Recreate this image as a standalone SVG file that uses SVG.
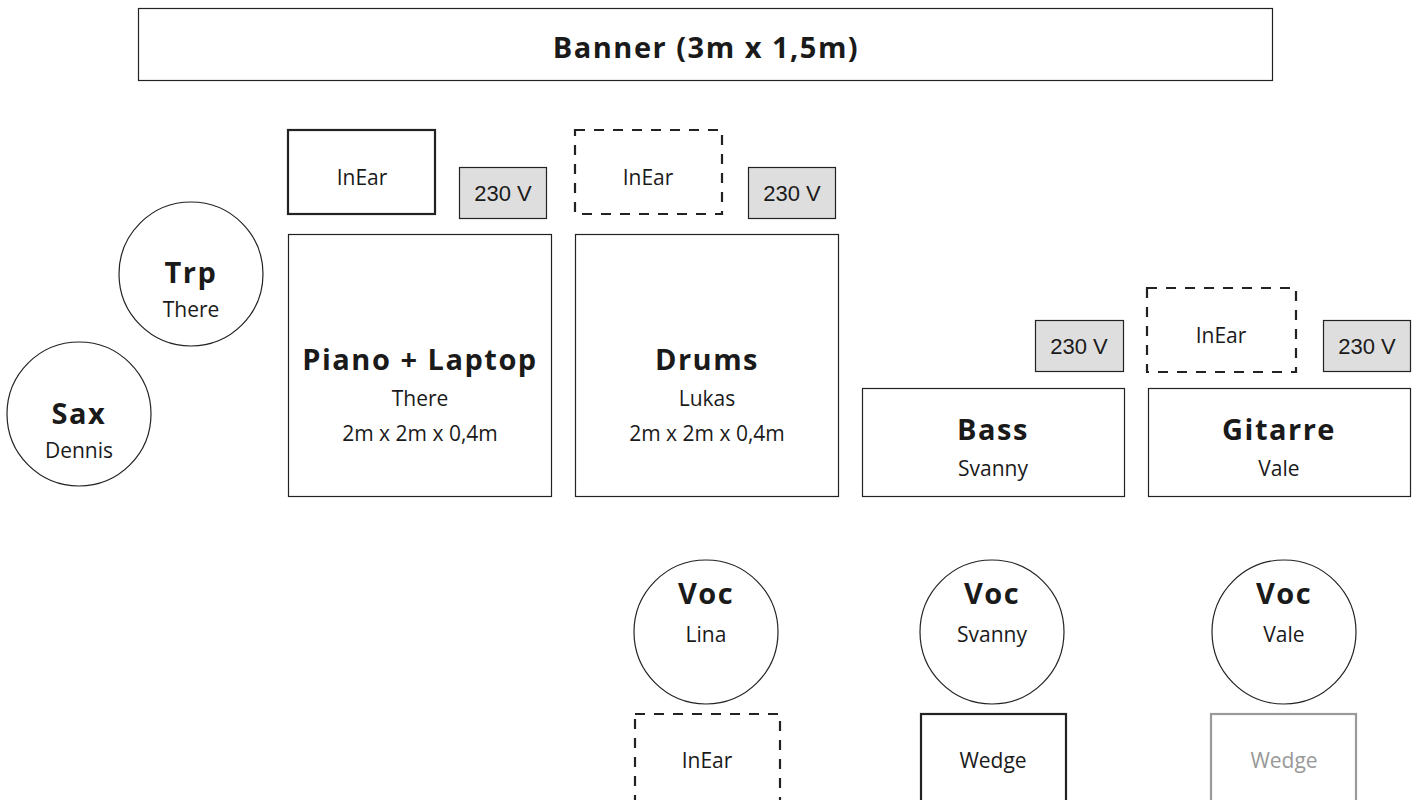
<svg xmlns="http://www.w3.org/2000/svg" width="1419" height="800" viewBox="0 0 1419 800">
<style>
.box{fill:#fff;stroke:#222;stroke-width:1.2}
.solid2{fill:#fff;stroke:#222;stroke-width:2.2}
.dash{fill:#fff;stroke:#222;stroke-width:2.2;stroke-dasharray:10 9}
.gray{fill:#fff;stroke:#999;stroke-width:2.2}
.pwr{fill:#dedede;stroke:#222;stroke-width:1.2}
.circ{fill:#fff;stroke:#222;stroke-width:1.2}
text{font-family:"Open Sans","Lato",sans-serif;text-anchor:middle;fill:#1a1a1a}
.b{font-weight:bold;font-size:29px;letter-spacing:1.5px}
.n{font-size:21px}
.v{font-family:"Liberation Sans",Arial,sans-serif;font-size:22px}
.g{fill:#999}
</style>
<g id="banner"><rect class="box" x="138.5" y="8.5" width="1134" height="72"/><text class="b" x="706" y="58">Banner (3m x 1,5m)</text></g>
<g id="inear1"><rect class="solid2" x="288" y="130" width="147" height="84"/><text class="n" x="362" y="185">InEar</text></g>
<g id="pwr1"><rect class="pwr" x="459.5" y="167.5" width="87" height="51"/><text class="v" x="503" y="201">230 V</text></g>
<g id="inear2"><rect class="dash" x="575" y="130" width="147" height="84"/><text class="n" x="648" y="185">InEar</text></g>
<g id="pwr2"><rect class="pwr" x="748.5" y="167.5" width="87" height="51"/><text class="v" x="792" y="201">230 V</text></g>
<g id="trp"><circle class="circ" cx="191" cy="274" r="72"/><text class="b" x="191" y="283">Trp</text><text class="n" x="191" y="317">There</text></g>
<g id="sax"><circle class="circ" cx="79" cy="414" r="72"/><text class="b" x="79" y="424">Sax</text><text class="n" x="79" y="458">Dennis</text></g>
<g id="piano"><rect class="box" x="288.5" y="234.5" width="263" height="262"/><text class="b" x="420" y="370">Piano + Laptop</text><text class="n" x="420" y="406">There</text><text class="n" x="420" y="441">2m x 2m x 0,4m</text></g>
<g id="drums"><rect class="box" x="575.5" y="234.5" width="263" height="262"/><text class="b" x="707" y="370">Drums</text><text class="n" x="707" y="406">Lukas</text><text class="n" x="707" y="441">2m x 2m x 0,4m</text></g>
<g id="pwr3"><rect class="pwr" x="1035.5" y="320.5" width="88" height="51"/><text class="v" x="1079" y="354">230 V</text></g>
<g id="inear3"><rect class="dash" x="1147" y="288" width="149" height="84"/><text class="n" x="1221" y="343">InEar</text></g>
<g id="pwr4"><rect class="pwr" x="1323.5" y="320.5" width="87" height="51"/><text class="v" x="1367" y="354">230 V</text></g>
<g id="bass"><rect class="box" x="862.5" y="388.5" width="262" height="108"/><text class="b" x="993" y="440">Bass</text><text class="n" x="993" y="476">Svanny</text></g>
<g id="gitarre"><rect class="box" x="1148.5" y="388.5" width="262" height="108"/><text class="b" x="1279" y="440">Gitarre</text><text class="n" x="1279" y="476">Vale</text></g>
<g id="voc1"><circle class="circ" cx="706" cy="632" r="72"/><text class="b" x="706" y="604">Voc</text><text class="n" x="706" y="642">Lina</text></g>
<g id="voc2"><circle class="circ" cx="992" cy="632" r="72"/><text class="b" x="992" y="604">Voc</text><text class="n" x="992" y="642">Svanny</text></g>
<g id="voc3"><circle class="circ" cx="1284" cy="632" r="72"/><text class="b" x="1284" y="604">Voc</text><text class="n" x="1284" y="642">Vale</text></g>
<g id="inear4"><rect class="dash" x="635" y="714" width="145" height="100"/><text class="n" x="707" y="768">InEar</text></g>
<g id="wedge1"><rect class="solid2" x="921" y="714" width="145" height="100"/><text class="n" x="993" y="768">Wedge</text></g>
<g id="wedge2"><rect class="gray" x="1211" y="714" width="145" height="100"/><text class="n g" x="1284" y="768">Wedge</text></g>
<g id="connectors"></g>
</svg>
